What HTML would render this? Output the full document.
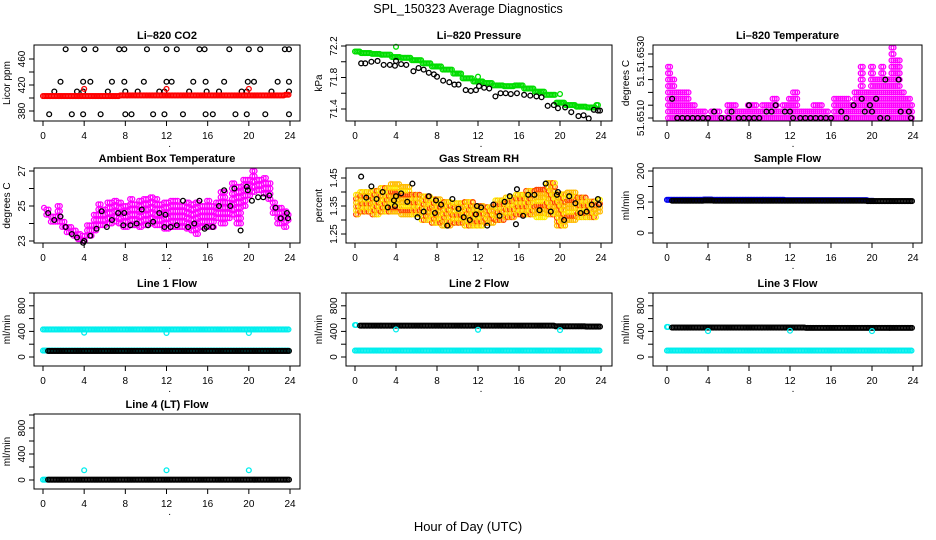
<!DOCTYPE html>
<html><head><meta charset="utf-8"><style>
body{margin:0;background:#fff}
svg{display:block;font-family:"Liberation Sans",sans-serif}
.t{font-size:11px;font-weight:bold;text-anchor:middle}
.tk{font-size:10px;text-anchor:middle}
</style></head><body>
<svg id="s" width="936" height="540" viewBox="0 0 936 540" xmlns="http://www.w3.org/2000/svg">
<text x="468" y="13" style="font-size:12.5px;text-anchor:middle">SPL_150323  Average Diagnostics</text>
<text x="468" y="531" style="font-size:13px;text-anchor:middle">Hour of Day (UTC)</text>
</svg>
<script>
// ---------- data ----------
const hourTicks=[0,4,8,12,16,20,24];
// CO2
const co2Red=[403,403,403,403,403,403,403,403,404,404,404,404,404,404,404,404,404,404,404,404,404,404,404,404,405];
const co2RedOutH=[4,12,20], co2RedOutV=[414,414,414];
const co2BlkH=[2.2,4,5.1,7.4,7.9,10.1,12,13,15.2,15.7,18.1,20,21.1,23.5,23.9, 1.7,3.9,4.6,6.7,7.9,9.8,12,12.5,14.6,15.8,17.6,19.9,20.5,22.8,23.9, 1.1,3.3,3.9,6.3,8,9.2,11.3,11.8,14.2,15.9,17.1,19.3,19.8,22.2,23.9, 0.6,2.8,3.9,5.6,8,8.6,10.7,11.8,13.6,15.8,16.5,18.7,19.8,21.6,23.9];
const co2BlkV=[475,475,475,475,475,475,475,475,475,475,475,475,475,475,475, 425,425,425,425,425,425,425,425,425,425,425,425,425,425,425, 410,410,410,410,410,410,410,410,410,410,410,410,410,410,410, 375,375,375,375,375,375,375,375,375,375,375,375,375,375,375];
// Pressure
const presGreen=[72.13,72.11,72.10,72.09,72.06,72.05,72.02,71.98,71.94,71.90,71.85,71.79,71.75,71.73,71.70,71.69,71.70,71.66,71.62,71.58,71.48,71.45,71.43,71.42,71.45];
const presGreenOutH=[4,12,20], presGreenOutV=[72.19,71.81,71.59];
const presBlkH=[0.6,1,1.6,2.2,2.8,3.4,3.9,4,4.5,5,5.7,6.2,6.7,7.2,7.7,8,8.6,9.2,9.7,10.1,10.8,11.3,11.8,12.1,12.6,13.1,13.7,14.2,14.7,15.2,15.8,16.5,17.1,17.7,18.2,18.8,19.4,19.8,20.5,21.1,21.8,22.3,22.8,23.3,23.7,23.9];
const presBlkV=[71.98,71.98,72.0,72.01,71.96,71.96,71.95,72.01,71.97,71.96,71.88,71.92,71.90,71.86,71.84,71.81,71.76,71.74,71.71,71.71,71.64,71.63,71.64,71.69,71.67,71.66,71.56,71.60,71.60,71.59,71.60,71.58,71.57,71.56,71.55,71.44,71.45,71.41,71.42,71.36,71.31,71.32,71.28,71.39,71.38,71.38];
// Li-820 temperature (half-hour max level & black points)
const tempTimes=[0.3,0.5,1,1.5,2,2.5,3,3.5,4,4.5,5,5.5,6,6.5,7,7.5,8,8.5,9,9.5,10,10.5,11,11.5,12,12.5,13,13.5,14,14.5,15,15.5,16,16.5,17,17.5,18,18.5,19,19.5,20,20.5,21,21.5,22,22.5,23,23.5,23.9];
const tempMax=[51.6525,51.6520,51.6515,51.6515,51.6515,51.6510,51.65075,51.65075,51.6505,51.65075,51.65075,51.6505,51.6510,51.6510,51.65075,51.65075,51.6510,51.6510,51.65075,51.6510,51.6510,51.65125,51.65075,51.6510,51.65125,51.6515,51.65075,51.65075,51.65075,51.6510,51.6510,51.65075,51.6505,51.65125,51.65125,51.65125,51.6510,51.6515,51.6525,51.6515,51.6525,51.6520,51.6525,51.6520,51.65325,51.65275,51.6515,51.65125,51.6510];
const tempBlkH=[1,1.5,2,2.5,3,3.5,4,5.3,6,7,7.5,8,8.5,9,12.3,13,13.5,14,14.5,15,15.5,16,17.5,20.8,21.5,23.8,4.6,6.3,9.7,10.2,11.5,12.0,17.0,19.3,20,22.8,23.6,8,10.6,18.2,19.8,0.5,19,20.4,21.3,22.6];
const tempBlkV=[51.6505,51.6505,51.6505,51.6505,51.6505,51.6505,51.6505,51.6505,51.6505,51.6505,51.6505,51.6505,51.6505,51.6505,51.6505,51.6505,51.6505,51.6505,51.6505,51.6505,51.6505,51.6505,51.6505,51.6505,51.6505,51.6505,51.65075,51.65075,51.65075,51.65075,51.65075,51.65075,51.65075,51.65075,51.65075,51.65075,51.65075,51.6510,51.6510,51.6510,51.6510,51.65125,51.65125,51.65125,51.6520,51.6520];
// Ambient box temperature
const ambHi=[25.0,24.9,24.5,25.0,24.2,23.9,23.6,23.4,23.3,24.0,24.6,25.3,25.0,25.4,25.5,25.2,25.2,25.4,25.3,25.5,25.6,25.5,25.4,25.3,25.3,25.3,25.3,25.2,25.2,25.1,25.2,25.0,25.3,25.2,25.4,25.9,25.2,26.4,26.1,26.6,26.5,27.1,26.5,26.8,26.3,25.3,25.0,24.8,24.6];
const ambLo=[24.9,24.5,24.1,24.1,23.8,23.5,23.3,23.1,23.0,23.3,23.6,23.9,23.9,24.0,24.1,24.0,23.8,23.9,23.9,23.8,23.9,24.0,23.9,23.9,23.7,23.8,23.8,23.8,23.7,23.6,23.4,23.8,23.8,23.8,24.3,24.0,24.3,24.5,24.0,25.0,25.6,25.8,25.9,25.7,25.4,24.6,24.0,23.8,24.2];
const ambBlkH=[0.5,1.1,1.7,2.2,2.8,3.3,3.9,4,4.6,5.2,5.7,6.2,6.7,7.3,7.8,7.9,8.5,9.1,9.6,10.2,10.7,11.3,11.8,11.9,12.4,13,13.6,14.1,14.7,15.2,15.7,15.9,16.5,17.1,17.6,18.2,18.6,19.2,19.8,19.9,20.3,20.9,21.4,22,22.6,23.1,23.7,23.8];
const ambBlkV=[24.6,24.2,24.4,23.8,23.4,23.2,22.9,23.0,23.3,23.7,24.7,23.8,24.2,24.6,23.9,24.6,23.9,24.0,24.8,23.9,24.1,24.6,23.8,24.5,23.8,23.9,25.3,23.8,24.0,25.3,23.7,23.8,23.8,25.0,25.9,25.0,26.0,23.6,26.1,25.9,25.3,25.5,25.5,25.6,24.9,24.3,24.6,24.3];
// Gas stream RH (hourly cloud bounds)
const rhHi=[1.39,1.41,1.41,1.42,1.44,1.42,1.40,1.39,1.38,1.37,1.37,1.37,1.36,1.35,1.38,1.39,1.40,1.41,1.42,1.44,1.40,1.40,1.39,1.37,1.38];
const rhLo=[1.32,1.33,1.32,1.33,1.33,1.32,1.32,1.30,1.29,1.28,1.29,1.28,1.28,1.29,1.30,1.31,1.32,1.32,1.31,1.32,1.28,1.30,1.31,1.31,1.33];
const rhBlkH=[0.6,1.1,1.6,2.1,2.7,3.2,3.8,3.9,4,4.5,5.1,5.6,6.1,6.7,7.2,7.8,7.9,8.4,9,9.5,10.1,10.6,11.2,11.8,11.9,12.3,12.9,13.5,14.1,14.6,15.1,15.7,15.8,16.4,16.9,17.5,18,18.6,19.1,19.7,19.8,20.4,20.9,21.5,22,22.6,23.1,23.7,23.8];
const rhBlkV=[1.455,1.38,1.42,1.375,1.40,1.345,1.37,1.35,1.385,1.395,1.365,1.43,1.31,1.33,1.385,1.325,1.37,1.355,1.28,1.375,1.34,1.31,1.30,1.32,1.35,1.345,1.28,1.355,1.315,1.365,1.385,1.285,1.41,1.315,1.39,1.39,1.335,1.43,1.33,1.39,1.40,1.30,1.385,1.36,1.325,1.33,1.355,1.375,1.355];
// Sample flow
const sampBlue=[107,107,107,107,108,107,107,107,107,107,107,107,106,106,106,106,106,106,106,106,104,104,104,104,104];
const sampBlk=[104,104,104,104,105,104,104,104,104,104,104,104,104,104,104,104,104,104,104,104,103,103,103,103,103];
// Line flows (hourly)
const l1CyanHi=[430,430,430,430,430,430,430,430,430,430,430,430,430,430,430,430,430,430,430,430,430,430,430,430,430];
const l1CyanLo=[100,100,100,100,100,100,100,100,100,100,100,100,100,100,100,100,100,100,100,100,100,100,100,100,100];
const l1Blk=[95,95,95,95,95,95,95,95,95,95,95,95,95,95,95,95,95,95,95,95,95,95,95,95,95];
const l1OutV=[380,375,375];
const l2Cyan=[100,100,100,100,100,100,100,100,100,100,100,100,100,100,100,100,100,100,100,100,100,100,100,100,100];
const l2Blk=[490,490,490,490,490,490,490,490,490,490,490,490,490,490,490,490,490,490,490,490,480,480,480,475,475];
const l2OutV=[430,425,420];
const l3Cyan=[100,100,100,100,100,100,100,100,100,100,100,100,100,100,100,100,100,100,100,100,100,100,100,100,100];
const l3Blk=[460,460,460,460,460,460,460,460,460,460,460,460,460,460,455,455,455,455,455,455,455,455,455,455,455];
const l3OutV=[405,410,405];
const l4Cyan=[5,5,5,5,5,5,5,5,5,5,5,5,5,5,5,5,5,5,5,5,5,5,5,5,5];
const l4Blk=[5,5,5,5,5,5,5,5,5,5,5,5,5,5,5,5,5,5,5,5,5,5,5,5,5];
const l4OutV=[150,150,150];
const outH=[4,12,20];

// ---------- drawing ----------
const S=document.getElementById('s'),NS='http://www.w3.org/2000/svg';
function mk(tag,at,par){const e=document.createElementNS(NS,tag);for(const k in at)e.setAttribute(k,at[k]);(par||S).appendChild(e);return e;}
const cols=[{l:34,r:300,x0:43,x24:290},{l:346,r:612,x0:355,x24:601},{l:653,r:922,x0:667,x24:913}];
const rows=[{t:45,b:121},{t:168,b:243},{t:293,b:366},{t:414,b:489}];
function panel(name,title,ci,ri,ylab,v0,p0,v1,p1,ticks,labels){
  const c=cols[ci],r=rows[ri];
  const g=mk('g',{});
  
  
  const X=h=>c.x0+(h/24)*(c.x24-c.x0);
  const Y=v=>p0+(v-v0)*(p1-p0)/(v1-v0);
  const t=mk('text',{x:(c.l+c.r)/2,y:r.t-6,class:'t'},g);t.textContent=title;
  
  
  const pg=mk('g',{},g);
  const ax=mk('g',{stroke:'#000','stroke-width':1,fill:'none'},g);
  mk('line',{x1:X(0),x2:X(24),y1:r.b,y2:r.b},ax);
  hourTicks.forEach(h=>{mk('line',{x1:X(h),x2:X(h),y1:r.b,y2:r.b+5},ax);
    const tx=mk('text',{x:X(h),y:r.b+18,class:'tk',stroke:'none',fill:'#000'},g);tx.textContent=h;});
  mk('line',{x1:c.l,x2:c.l,y1:Y(ticks[0]),y2:Y(ticks[ticks.length-1])},ax);
  ticks.forEach((v,i)=>{mk('line',{x1:c.l,x2:c.l-5,y1:Y(v),y2:Y(v)},ax);
    if(labels[i]){const tx=mk('text',{x:c.l-9,y:Y(v),class:'tk',transform:`rotate(-90 ${c.l-9} ${Y(v)})`},g);tx.textContent=labels[i];}});
  mk('rect',{x:c.l,y:r.t,width:c.r-c.l,height:r.b-r.t},ax);
  const yl=mk('text',{x:c.l-24,y:(r.t+r.b)/2,class:'tk',transform:`rotate(-90 ${c.l-24} ${(r.t+r.b)/2})`},g);yl.textContent=ylab;
  
  
  const dot=mk('text',{x:X(12.3),y:r.b+26,class:'tk'},g);dot.textContent='.';
  return {g:pg,X,Y};
}
function pt(P,h,v,col,rad){
  return mk('circle',{cx:P.X(h),cy:P.Y(v),r:rad||2.4,fill:'none',stroke:col,'stroke-width':1.3},P.g);
}
function points(P,H,V,col,name){H.forEach((h,i)=>{const c=pt(P,h,V[i],col);});}
function dense(P,vals,col,name,h0,h1){
  h0=h0||0;h1=(h1===undefined)?24:h1;
  for(let h=h0;h<=h1+1e-6;h+=0.15){const i=Math.min(24,Math.round(h));const c=pt(P,h,vals[i],col);
    }
}
function cloud(P,hi,lo,col,name,stepV,stepH){
  for(let h=0.1;h<=23.9;h+=stepH){const i=Math.min(24,Math.round(h));
    for(let v=lo[i];v<=hi[i]+1e-9;v+=stepV){const c=pt(P,h,v,col);}}
}
function cloudT(P,T,hi,lo,col,name,stepV,stepH){
  for(let h=0.1;h<=23.9;h+=stepH){let i=0;T.forEach((t,j)=>{if(Math.abs(t-h)<Math.abs(T[i]-h))i=j;});
    for(let v=lo[i];v<=hi[i]+1e-9;v+=stepV){const c=pt(P,h,v,col);}}
}

// Panel 1 CO2
let P=panel('co2-panel','Li\u2013820 CO2',0,0,'Licor ppm',380,111,460,59,[380,400,420,440,460],['380','','420','','460']);
points(P,co2BlkH,co2BlkV,'#000','co2-black-point');
dense(P,co2Red,'#f00','co2-red-point',0,23.9);
points(P,co2RedOutH,co2RedOutV,'#f00','co2-red-outlier');
// Panel 2 pressure
P=panel('pressure-panel','Li\u2013820 Pressure',1,0,'kPa',71.4,109,72.2,46,[71.4,71.6,71.8,72.0,72.2],['71.4','','71.8','','72.2']);
dense(P,presGreen,'#00dd00','pressure-green-point',0,23.8);
points(P,presGreenOutH,presGreenOutV,'#00dd00','pressure-green-outlier');
points(P,presBlkH,presBlkV,'#000','pressure-black-point');
// Panel 3 Li-820 temp
P=panel('licor-temp-panel','Li\u2013820 Temperature',2,0,'degrees C',51.6505,118,51.6530,54,[51.6505,51.6510,51.6515,51.6520,51.6525,51.6530],['51.6510','','','51.','','51.6530']);
cloudT(P,tempTimes,tempMax,tempTimes.map(()=>51.6505),'#ff00ff','licor-temp-magenta-point',0.00025,0.2);
points(P,tempBlkH,tempBlkV,'#000','licor-temp-black-point');
// Panel 4 ambient
P=panel('ambient-temp-panel','Ambient Box Temperature',0,1,'degrees C',23,241,27,171,[23,24,25,26,27],['23','','25','','27']);
cloudT(P,ambHi.map((_,i)=>i*0.5),ambHi,ambLo,'#ff00ff','ambient-magenta-point',0.3,0.22);
points(P,ambBlkH,ambBlkV,'#000','ambient-black-point');
// Panel 5 RH
P=panel('rh-panel','Gas Stream RH',1,1,'percent',1.25,234,1.45,178,[1.25,1.30,1.35,1.40,1.45],['1.25','','1.35','','1.45']);
cloud(P,rhHi,rhLo,'#ffbb00','rh-orange-point',0.014,0.2);
P.g.querySelectorAll('circle').forEach((c,i)=>{if(i%4===0)c.setAttribute('stroke','#ff4400');if(i%4===1)c.setAttribute('stroke','#ffee00');});
points(P,rhBlkH,rhBlkV,'#000','rh-black-point');
// Panel 6 sample flow
P=panel('sample-flow-panel','Sample Flow',2,1,'ml/min',0,233,200,171,[0,50,100,150,200],['0','','100','','200']);
dense(P,sampBlue,'#0000ee','sample-flow-blue-point',0,20.2);
dense(P,sampBlk,'#000','sample-flow-black-point',0.5,23.9);
// Line flows
const fT=[0,200,400,600,800,1000],fL=['0','','400','','800',''];
P=panel('line1-flow-panel','Line 1 Flow',0,2,'ml/min',0,357,1000,293,fT,fL);
dense(P,l1CyanHi,'#00eeee','line1-cyan-high-point',0,23.9);
dense(P,l1CyanLo,'#00eeee','line1-cyan-low-point',0,23.9);
dense(P,l1Blk,'#000','line1-black-point',0.5,23.9);
points(P,outH,l1OutV,'#00eeee','line1-outlier');
P=panel('line2-flow-panel','Line 2 Flow',1,2,'ml/min',0,357,1000,293,fT,fL);
dense(P,l2Cyan,'#00eeee','line2-cyan-point',0,23.9);
points(P,[0,0.1],[500,500],'#00eeee','line2-cyan-start');
dense(P,l2Blk,'#000','line2-black-point',0.5,23.9);
points(P,outH,l2OutV,'#00eeee','line2-outlier');
P=panel('line3-flow-panel','Line 3 Flow',2,2,'ml/min',0,357,1000,293,fT,fL);
dense(P,l3Cyan,'#00eeee','line3-cyan-point',0,23.9);
points(P,[0,0.1],[470,470],'#00eeee','line3-cyan-start');
dense(P,l3Blk,'#000','line3-black-point',0.5,23.9);
points(P,outH,l3OutV,'#00eeee','line3-outlier');
P=panel('line4-flow-panel','Line 4 (LT) Flow',0,3,'ml/min',0,480,1000,415,fT,fL);
dense(P,l4Cyan,'#00eeee','line4-cyan-point',0,0.3);
dense(P,l4Blk,'#000','line4-black-point',0.5,23.9);
points(P,outH,l4OutV,'#00eeee','line4-outlier');
</script>
</body></html>
